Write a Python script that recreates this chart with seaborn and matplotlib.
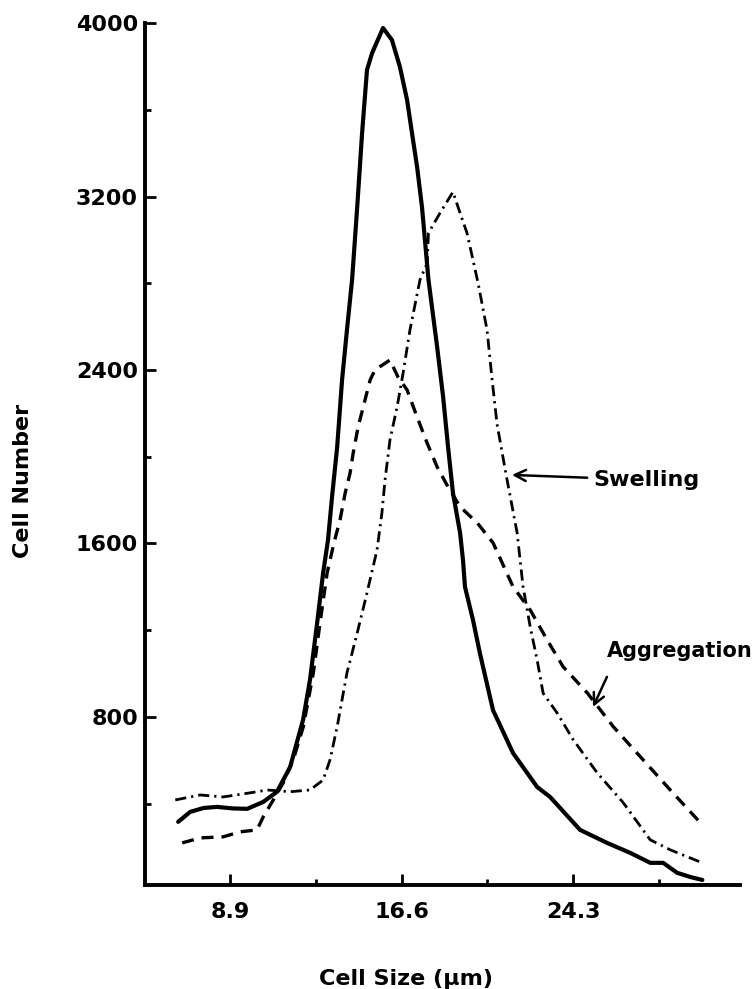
#!/usr/bin/env python3
# Cell size distribution: control, swelling and aggregation curves

import numpy as np
import pandas as pd
import seaborn as sns
import matplotlib.pyplot as plt
from matplotlib.ticker import FixedLocator

sns.set_style("ticks", {"axes.edgecolor": "black", "text.color": "black",
                        "xtick.color": "black", "ytick.color": "black",
                        "axes.labelcolor": "black"})
plt.rcParams['font.family'] = ['DejaVu Sans']
plt.rcParams['font.weight'] = 'bold'

# solid curve (untreated)
control_x = [6.56, 7.1, 7.7, 8.3, 9.0, 9.66, 10.38, 11.0, 11.59, 12.17, 12.48, 12.8,
             13.07, 13.29, 13.47, 13.7, 13.92, 14.14, 14.37, 14.6, 14.82, 15.04, 15.27,
             15.76, 16.16, 16.52, 16.84, 17.06, 17.29, 17.51, 17.8, 18.19, 18.46, 18.68,
             18.9, 19.22, 19.35, 19.44, 19.8, 20.11, 20.7, 21.6, 22.68, 23.26, 24.61,
             25.82, 26.86, 27.76, 28.34, 28.97, 29.55, 30.1]
control_y = [316, 362, 380, 385, 378, 376, 408, 455, 570, 787, 971, 1233,
             1464, 1617, 1815, 2045, 2354, 2585, 2816, 3151, 3493, 3784, 3862,
             3977, 3922, 3797, 3645, 3493, 3336, 3151, 2816, 2506, 2275, 2045,
             1833, 1649, 1524, 1400, 1247, 1094, 831, 633, 477, 431, 279,
             219, 173, 127, 127, 81, 62, 48]

# dashed curve
aggregation_x = [6.74, 7.55, 8.58, 9.35, 10.1, 10.38, 10.83, 11.28, 11.73, 12.18, 12.63,
                 12.93, 13.25, 13.55, 13.83, 14.06, 14.28, 14.42, 14.64, 14.87, 15.18,
                 15.4, 16.07, 16.43, 16.84, 17.29, 17.74, 18.19, 18.63, 19.22, 19.99,
                 20.7, 21.6, 22.37, 23.13, 23.85, 24.93, 26.1, 27.44, 28.66, 30.1]
aggregation_y = [219, 242, 247, 270, 279, 339, 417, 496, 603, 755, 1003,
                 1233, 1464, 1600, 1709, 1833, 1925, 2017, 2137, 2229, 2354,
                 2400, 2446, 2368, 2308, 2183, 2063, 1953, 1870, 1769, 1695,
                 1603, 1400, 1293, 1155, 1031, 911, 755, 602, 463, 302]

# dash-dot curve
swelling_x = [6.43, 7.55, 8.58, 9.8, 10.56, 11.59, 12.48, 13.07, 13.38, 13.7, 14.14,
              14.6, 15.04, 15.49, 15.71, 15.85, 16.07, 16.39, 16.66, 16.97, 17.42,
              17.74, 17.8, 18.32, 18.9, 19.22, 19.53, 19.8, 20.03, 20.43, 20.66,
              20.88, 21.3, 21.78, 22.05, 22.37, 22.68, 22.95, 23.58, 24.3, 25.37,
              26.55, 27.76, 28.66, 30.1]
swelling_y = [417, 440, 431, 450, 463, 455, 463, 509, 602, 755, 1003,
              1187, 1372, 1570, 1741, 1893, 2077, 2229, 2385, 2585, 2816,
              2893, 3032, 3124, 3221, 3124, 3032, 2907, 2800, 2585, 2354,
              2150, 1910, 1650, 1400, 1215, 1063, 909, 818, 695, 543,
              404, 233, 187, 127]

x_major = [8.9, 16.6, 24.3]
x_minor = [12.75, 20.45, 28.15]
y_major = [800, 1600, 2400, 3200, 4000]
y_minor = [400, 1200, 2000, 2800, 3600]

fig = plt.figure(figsize=(7.56, 9.89), dpi=100)
ax = fig.add_axes([0.1918, 0.1052, 0.787, 0.8715])

sns.lineplot(x=control_x, y=control_y, ax=ax, color='black', lw=3.0, sort=False)
sns.lineplot(x=aggregation_x, y=aggregation_y, ax=ax, color='black', lw=2.4,
             linestyle=(0, (3.6, 2.4)), sort=False)
sns.lineplot(x=swelling_x, y=swelling_y, ax=ax, color='black', lw=2.0,
             linestyle=(0, (4.0, 1.8, 0.8, 1.8)), sort=False)

ax.set_xlim(5.07, 31.79)
ax.set_ylim(25, 4000)

ax.xaxis.set_major_locator(FixedLocator(x_major))
ax.xaxis.set_minor_locator(FixedLocator(x_minor))
ax.yaxis.set_major_locator(FixedLocator(y_major))
ax.yaxis.set_minor_locator(FixedLocator(y_minor))
ax.set_xticklabels([str(v) for v in x_major])
ax.set_yticklabels([str(v) for v in y_major])

ax.tick_params(which='major', direction='in', length=8, width=2, labelsize=16,
               colors='black')
ax.tick_params(which='minor', direction='in', length=4, width=2, colors='black')
ax.tick_params(axis='x', pad=12)
ax.tick_params(axis='y', pad=5)
for lbl in ax.get_xticklabels() + ax.get_yticklabels():
    lbl.set_fontweight('bold')

sns.despine(ax=ax)
for side in ('left', 'bottom'):
    ax.spines[side].set_linewidth(2.8)
    ax.spines[side].set_color('black')

ax.set_xlabel("Cell Size (\u03bcm)", fontsize=16, fontweight='bold', color='black')
ax.set_ylabel("Cell Number", fontsize=16, fontweight='bold', color='black')
ax.xaxis.set_label_coords(0.439, -0.097)
ax.yaxis.set_label_coords(-0.189, 0.469)

ax.annotate("Swelling", xy=(21.55, 1916), xytext=(25.2, 1893),
            fontsize=16, fontweight='bold', va='center', ha='left', color='black',
            arrowprops=dict(arrowstyle='->', color='black', lw=1.8,
                            mutation_scale=20, shrinkA=2, shrinkB=0))
ax.annotate("Aggregation", xy=(25.19, 846), xytext=(25.82, 1104),
            fontsize=15, fontweight='bold', va='center', ha='left', color='black',
            annotation_clip=False,
            arrowprops=dict(arrowstyle='->', color='black', lw=1.8,
                            mutation_scale=20, shrinkA=10, shrinkB=0,
                            relpos=(0.05, 0.0)))

plt.savefig("out.png", dpi=100)
